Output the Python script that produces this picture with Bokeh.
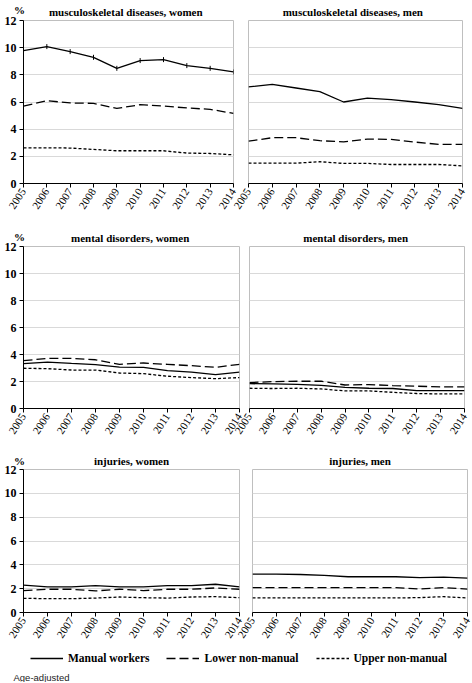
import math
from bokeh.plotting import figure
from bokeh.layouts import column, row
from bokeh.models import Range1d, FixedTicker, Label, Legend, LegendItem
from bokeh.embed import file_html
from bokeh.resources import INLINE

years = [2005, 2006, 2007, 2008, 2009, 2010, 2011, 2012, 2013, 2014]
y_ticks = [0, 2, 4, 6, 8, 10, 12]
unit_text = "%"
series_names = ["Manual workers", "Lower non-manual", "Upper non-manual"]
titles = ["musculoskeletal   diseases, women", "musculoskeletal   diseases, men",
          "mental  disorders, women", "mental  disorders, men",
          "injuries, women", "injuries, men"]
note_text = "Age-adjusted"

msk_women_manual = [9.79, 10.08, 9.71, 9.29, 8.48, 9.05, 9.12, 8.68, 8.48, 8.21]
msk_women_lower = [5.70, 6.10, 5.93, 5.90, 5.53, 5.80, 5.70, 5.56, 5.46, 5.16]
msk_women_upper = [2.63, 2.63, 2.61, 2.51, 2.41, 2.41, 2.41, 2.24, 2.21, 2.11]
msk_men_manual = [7.11, 7.30, 7.03, 6.76, 6.00, 6.29, 6.17, 6.00, 5.80, 5.53]
msk_men_lower = [3.12, 3.37, 3.37, 3.15, 3.07, 3.27, 3.25, 3.05, 2.88, 2.88]
msk_men_upper = [1.50, 1.50, 1.50, 1.60, 1.48, 1.48, 1.40, 1.40, 1.40, 1.30]
mental_women_manual = [3.32, 3.44, 3.34, 3.25, 3.07, 3.05, 2.80, 2.70, 2.51, 2.70]
mental_women_lower = [3.54, 3.71, 3.71, 3.61, 3.27, 3.37, 3.27, 3.17, 3.05, 3.27]
mental_women_upper = [2.98, 2.95, 2.85, 2.85, 2.63, 2.58, 2.39, 2.29, 2.21, 2.29]
mental_men_manual = [1.84, 1.82, 1.79, 1.72, 1.57, 1.50, 1.48, 1.33, 1.33, 1.33]
mental_men_lower = [1.92, 1.99, 2.02, 2.02, 1.74, 1.77, 1.70, 1.65, 1.60, 1.60]
mental_men_upper = [1.50, 1.48, 1.50, 1.45, 1.30, 1.30, 1.20, 1.11, 1.08, 1.08]
inj_women_manual = [2.29, 2.15, 2.15, 2.26, 2.15, 2.15, 2.26, 2.26, 2.37, 2.15]
inj_women_lower = [1.84, 1.95, 1.95, 1.81, 1.95, 1.84, 1.95, 1.95, 2.06, 1.95]
inj_women_upper = [1.19, 1.16, 1.16, 1.21, 1.30, 1.24, 1.21, 1.30, 1.33, 1.24]
inj_men_manual = [3.22, 3.22, 3.19, 3.11, 3.00, 3.00, 3.00, 2.92, 2.97, 2.89]
inj_men_lower = [2.08, 2.08, 2.08, 2.08, 2.08, 2.08, 2.08, 1.97, 2.08, 1.97]
inj_men_upper = [1.22, 1.22, 1.22, 1.22, 1.22, 1.22, 1.22, 1.25, 1.33, 1.22]

SERIF = "Liberation Serif"
DASHES = ["solid", "9 4", "3 2"]
LW = 1.3


def panel(title, manual, lower, upper, left, fw, fh, bl, br, bt, bb, shift=0,
          markers=False, title_offset=-4):
    kw = {}
    if shift:
        kw["styles"] = {"margin-left": f"-{shift}px"}
    p = figure(width=bl + fw + br, height=bt + fh + bb,
               x_range=Range1d(years[0], years[-1]), y_range=Range1d(y_ticks[0], y_ticks[-1]),
               output_backend="svg", toolbar_location=None,
               min_border_left=bl, min_border_right=br, min_border_top=bt, min_border_bottom=bb,
               **kw)
    p.background_fill_alpha = 0
    p.border_fill_alpha = 0
    p.outline_line_color = "#bfbfbf"
    p.outline_line_width = 1
    p.xgrid.visible = False
    p.ygrid.ticker = FixedTicker(ticks=y_ticks)
    p.ygrid.grid_line_color = "#d9d9d9"
    p.ygrid.grid_line_width = 1

    p.xaxis.ticker = FixedTicker(ticks=years)
    p.xaxis.axis_line_color = "black"
    p.xaxis.axis_line_width = 1
    p.xaxis.major_tick_line_color = "black"
    p.xaxis.major_tick_out = 4
    p.xaxis.major_tick_in = 0
    p.xaxis.minor_tick_line_color = None
    p.xaxis.major_label_orientation = 1.0
    p.xaxis.major_label_standoff = 2
    p.xaxis.major_label_text_font = SERIF
    p.xaxis.major_label_text_font_style = "normal"
    p.xaxis.major_label_text_font_size = "11px"
    p.xaxis.major_label_text_color = "black"

    if left:
        p.yaxis.ticker = FixedTicker(ticks=y_ticks)
        p.yaxis.axis_line_color = "black"
        p.yaxis.major_tick_line_color = "black"
        p.yaxis.major_tick_out = 4
        p.yaxis.major_tick_in = 0
        p.yaxis.minor_tick_line_color = None
        p.yaxis.major_label_standoff = 3
        p.yaxis.major_label_text_font = SERIF
        p.yaxis.major_label_text_font_style = "bold"
        p.yaxis.major_label_text_font_size = "12px"
        p.yaxis.major_label_text_color = "black"
    else:
        p.yaxis.visible = False

    p.title.text = title
    p.title.align = "center"
    p.title.offset = title_offset
    p.title.text_font = SERIF
    p.title.text_font_style = "bold"
    p.title.text_font_size = "11px"
    p.title.text_color = "black"
    p.title.standoff = 6

    for vals, dash in zip([manual, lower, upper], DASHES):
        p.line(years, vals, line_color="black", line_width=LW, line_dash=dash)
    if markers:
        p.scatter(years, manual, marker="dash", angle=math.pi / 2, size=5,
                  line_color="black", line_width=1)
    return p


def unit_overlay(baseline_from_bottom):
    # small transparent canvas laid over the top-left corner of a row for the "%" unit text
    q = figure(width=40, height=20, x_range=Range1d(0, 1), y_range=Range1d(0, 1),
               output_backend="svg", toolbar_location=None, min_border=0, title=None,
               x_axis_type=None, y_axis_type=None,
               styles={"margin-bottom": "-20px"})
    q.grid.visible = False
    q.outline_line_color = None
    q.background_fill_alpha = 0
    q.border_fill_alpha = 0
    q.add_layout(Label(x=19, y=baseline_from_bottom, x_units="screen", y_units="screen",
                       text=unit_text, text_font=SERIF, text_font_style="bold",
                       text_font_size="11px", text_align="center",
                       text_baseline="alphabetic", text_color="black"))
    return q


# Row 1 (height 226)
p1 = panel(titles[0], msk_women_manual, msk_women_lower, msk_women_upper, True,
           fw=210, fh=163, bl=23, br=6, bt=20, bb=43, markers=True, title_offset=-4)
p2 = panel(titles[1], msk_men_manual, msk_men_lower, msk_men_upper, False,
           fw=214, fh=163, bl=22, br=10, bt=20, bb=43, shift=13, title_offset=-5)
# Row 2 (height 223)
p3 = panel(titles[2], mental_women_manual, mental_women_lower, mental_women_upper, True,
           fw=216, fh=163, bl=23, br=6, bt=19, bb=41, title_offset=-4)
p4 = panel(titles[3], mental_men_manual, mental_men_lower, mental_men_upper, False,
           fw=215, fh=163, bl=22, br=8, bt=19, bb=41, shift=18, title_offset=0)
# Row 3 (height 201)
p5 = panel(titles[4], inj_women_manual, inj_women_lower, inj_women_upper, True,
           fw=216, fh=143, bl=23, br=6, bt=20, bb=38, title_offset=-5)
p6 = panel(titles[5], inj_men_manual, inj_men_lower, inj_men_upper, False,
           fw=215, fh=143, bl=22, br=5, bt=20, bb=38, shift=15, title_offset=-2)

u1 = unit_overlay(11)
u2 = unit_overlay(10)
u3 = unit_overlay(9)

# Legend + note (height 32)
leg = figure(width=472, height=32, x_range=Range1d(0, 1), y_range=Range1d(0, 1),
             output_backend="svg", toolbar_location=None, min_border=0, title=None,
             x_axis_type=None, y_axis_type=None)
leg.grid.visible = False
leg.outline_line_color = None
leg.background_fill_alpha = 0
leg.border_fill_alpha = 0
# the sample lines sit outside the legend plot's ranges; only their legend glyphs show
rends = [leg.line(years, vals, line_color="black", line_width=LW, line_dash=d)
         for vals, d in zip([inj_men_manual, inj_men_lower, inj_men_upper], DASHES)]
legend = Legend(items=[LegendItem(label=n, renderers=[r]) for n, r in zip(series_names, rends)],
                orientation="horizontal", location=(30, 17),
                label_text_font=SERIF, label_text_font_style="bold", label_text_font_size="11.5px",
                label_text_color="black", glyph_width=33, glyph_height=14, label_height=14,
                label_standoff=5, spacing=17, padding=0, margin=0,
                border_line_color=None, background_fill_alpha=0)
leg.add_layout(legend)
leg.add_layout(Label(x=13, y=5, x_units="screen", y_units="screen", text=note_text,
                     text_font="Liberation Sans", text_font_size="9.5px", text_color="#222222",
                     text_baseline="alphabetic"))

layout = column(u1, row(p1, p2), u2, row(p3, p4), u3, row(p5, p6), leg)
open("out.html", "w").write(file_html(layout, INLINE))
